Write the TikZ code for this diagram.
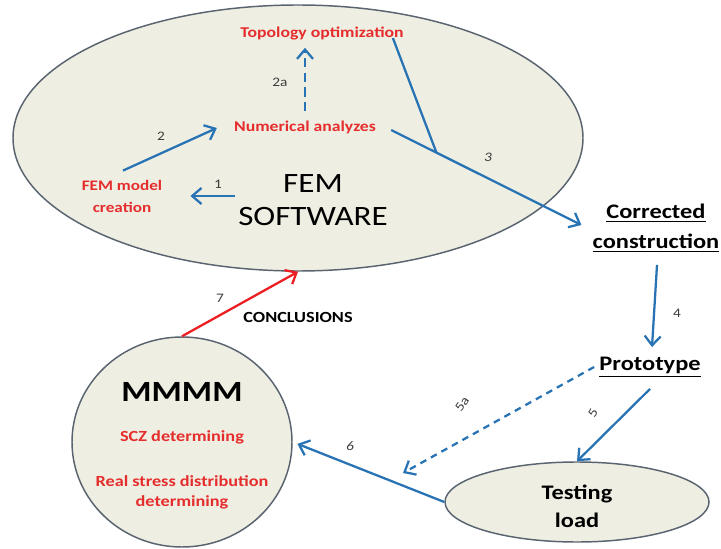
\documentclass[tikz,border=0pt]{standalone}
\usepackage{fontspec}
\setmainfont{Carlito}[FakeStretch=1.18]
\usetikzlibrary{arrows.meta,shapes.geometric,calc}
\definecolor{ellfill}{RGB}{238,238,226}
\definecolor{ellline}{RGB}{90,100,112}
\definecolor{arrblue}{RGB}{40,115,180}
\definecolor{txtred}{RGB}{230,45,45}
\definecolor{arrred}{RGB}{235,30,35}
\definecolor{numgray}{RGB}{60,60,60}
\begin{document}
\begin{tikzpicture}[x=0.75pt,y=-0.75pt,
  ell/.style={ellipse, draw=ellline, line width=1.1pt, fill=ellfill, inner sep=0pt},
  redtxt/.style={text=txtred, font=\bfseries\fontsize{11.25}{13}\selectfont, inner sep=0pt, align=center},
  redtxtb/.style={text=txtred, font=\bfseries\fontsize{11.6}{15}\selectfont, inner sep=0pt, align=center},
  femtxt/.style={font=\fontsize{21}{25}\selectfont, inner sep=0pt, align=center},
  ultxt/.style={font=\bfseries\fontsize{15.5}{22.5}\selectfont, inner sep=0pt, align=center},
  testtxt/.style={font=\bfseries\fontsize{15.5}{21}\selectfont, inner sep=0pt, align=center},
  mtxt/.style={font=\bfseries\fontsize{22}{24}\selectfont, inner sep=0pt},
  conctxt/.style={font=\bfseries\fontsize{11.6}{13}\selectfont, inner sep=0pt},
  lbl/.style={text=numgray, font=\fontsize{9.75}{11}\selectfont, inner sep=0pt},
  barb/.style={-{Straight Barb[length=7pt,width=12pt,line width=1.7pt]}},
  conn/.style={draw=arrblue, line width=1.7pt, barb},
  plainline/.style={draw=arrblue, line width=1.7pt},
  redconn/.style={draw=arrred, line width=1.7pt, barb},
  dashtwo/.style={dash pattern=on 7pt off 4pt},
  dashfive/.style={dash pattern=on 5pt off 4pt}
]
\fill[white] (0,0) rectangle (721,549);
\useasboundingbox (0,0) rectangle (721,549);

% ellipses
\node[ell, minimum width=427.5pt, minimum height=199.5pt] (femell) at (298,138) {};
\node[ell, minimum width=165pt, minimum height=157.5pt] (mmmm) at (182,442) {};
\node[ell, minimum width=198pt, minimum height=60pt] (testell) at (577,502) {};

% texts
\node[redtxt] (topo) at (322,33) {Topology optimization};
\node[redtxt] (num) at (305,127) {Numerical analyzes};
\node[redtxt, font=\bfseries\fontsize{10.9}{16.5}\selectfont] (femmodel) at (122,196) {FEM model\\creation};
\node[femtxt] (femsw) at (313,200) {FEM\\SOFTWARE};
\node[ultxt] (corr) at (656,228) {\underline{Corrected}\\\underline{construction}};
\node[ultxt] (proto) at (650,367) {\underline{Prototype}};
\node[testtxt] (testtxt) at (577,506) {Testing\\load};
\node[mtxt] (mm) at (182,392) {MMMM};
\node[redtxtb] (scz) at (182,437) {SCZ determining};
\node[redtxtb] (real) at (182,492) {Real stress distribution\\determining};
\node[conctxt] (concl) at (298,317) {CONCLUSIONS};

% connectors
\draw[conn] ($(femsw.west)+(-3,-4)$) -- ($(femmodel.east)+(28,0)$);
\draw[conn] ($(femmodel.north)+(1,-9)$) -- ($(num.west)+(-17,1)$);
\draw[conn, dashtwo] ($(num.north)+(0,-9)$) -- ($(num.north |- topo.south)+(0,8)$);
\draw[conn] ($(num.east)+(15,3)$) -- coordinate[pos=0.238] (junc) ($(corr.west)+(-11,-3)$);
\draw[plainline] ($(topo.east)+(-11,5)$) -- (junc);
\draw[conn] ($(corr.south)+(1,13)$) -- ($(proto.north)+(2,-10)$);
\draw[conn] ($(proto.south)+(0,12)$) -- (testell.north);
\coordinate (e5a) at (403,473);
\draw[conn, dashfive] ($(proto.west)+(-5,0)$) -- (e5a);
\draw[conn, shorten >=3.75pt] (testell.west) -- (mmmm.east);
\draw[redconn] (mmmm.north) -- (femell.south);

% labels
\node[lbl] (l1) at (218,184) {1};
\node[lbl] (l2) at (161,136) {2};
\node[lbl] (l2a) at (280,82) {2a};
\node[lbl] (l3) at (488,157) {\itshape 3};
\node[lbl] (l4) at (677,313) {4};
\node[lbl, rotate=60] (l5) at (593,413) {5};
\node[lbl, rotate=55] (l5a) at (462,404) {5a};
\node[lbl] (l6) at (350,446) {\itshape 6};
\node[lbl] (l7) at (220,298) {7};
\end{tikzpicture}
\end{document}
